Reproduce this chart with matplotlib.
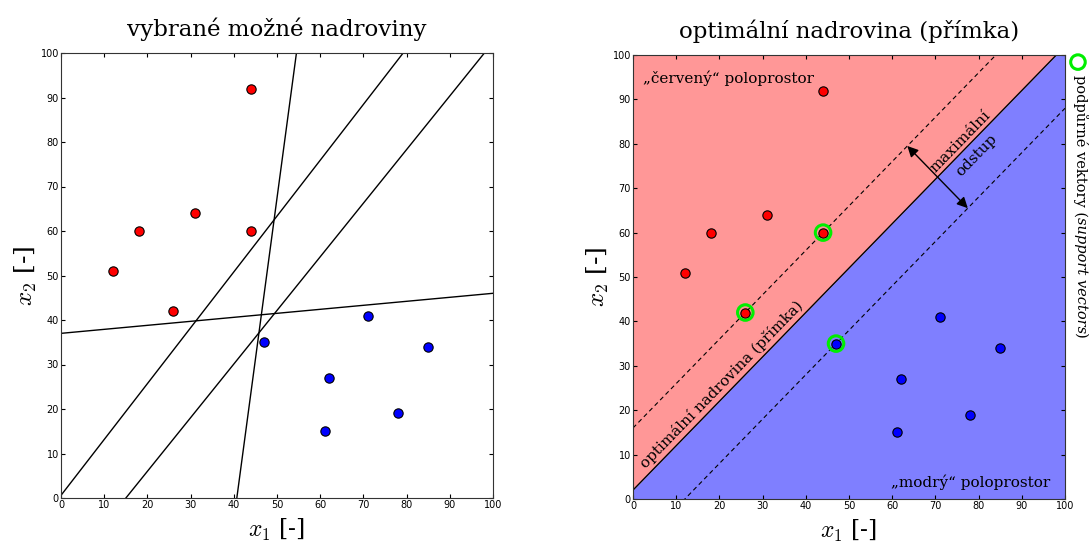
import numpy as np
import matplotlib
matplotlib.use('Agg')
import matplotlib.pyplot as plt

plt.rcParams['font.family'] = ['DejaVu Serif']
plt.rcParams['mathtext.fontset'] = 'cm'

# data points
red_x = [12, 18, 26, 31, 44, 44]
red_y = [51, 60, 42, 64, 60, 92]
blue_x = [47, 61, 62, 71, 78, 85]
blue_y = [35, 15, 27, 41, 19, 34]

# some candidate hyperplanes (slope, intercept), last one given by two points
cand_lines = [(0.09, 37.0), (1.255, 0.6), (1.205, -18.1)]
steep_x = [40.7, 54.5]
steep_y = [0, 100]

# optimal separating line y = x + 2, margins y = x + 16 and y = x - 12
opt_slope, opt_icpt = 1.0, 2.0
margin_icpts = [16.0, -12.0]
sv_x = [26, 44, 47]
sv_y = [42, 60, 35]

xs = np.linspace(0, 100, 201)

fig = plt.figure(figsize=(10.89, 5.45), dpi=100)
ax1 = fig.add_axes([61/1089, 1-498/545, 432/1089, 445/545])
ax2 = fig.add_axes([633/1089, 1-499/545, 432/1089, 444/545])


def style(ax):
    ax.set_xlim(0, 100)
    ax.set_ylim(0, 100)
    ax.set_xticks(range(0, 101, 10))
    ax.set_yticks(range(0, 101, 10))
    ax.tick_params(direction='in', top=True, right=True, labelsize=7, length=3,
                   pad=1.5)
    for lab in ax.get_xticklabels() + ax.get_yticklabels():
        lab.set_family('DejaVu Sans')
    for sp in ax.spines.values():
        sp.set_color('#333333')
    ax.set_xlabel(r'$x_1$ [-]', fontsize=17, labelpad=5)
    ax.set_ylabel(r'$x_2$ [-]', fontsize=18, labelpad=1)


# left: candidate lines
for k, q in cand_lines:
    ax1.plot(xs, k * xs + q, color='black', lw=1)
ax1.plot(steep_x, steep_y, color='black', lw=1)
ax1.scatter(red_x, red_y, s=45, c='red', edgecolors='black', linewidths=0.8, zorder=3)
ax1.scatter(blue_x, blue_y, s=45, c='blue', edgecolors='black', linewidths=0.8, zorder=3)
style(ax1)
ax1.set_title('vybrané možné nadroviny', fontsize=16.5, pad=12)

# right: optimal line and half-planes
ax2.fill_between(xs, opt_slope * xs + opt_icpt, 100, color='#ff9797', lw=0)
ax2.fill_between(xs, 0, opt_slope * xs + opt_icpt, color='#7f7fff', lw=0)
ax2.plot(xs, opt_slope * xs + opt_icpt, color='black', lw=1)
for q in margin_icpts:
    ax2.plot(xs, opt_slope * xs + q, color='black', lw=0.8, ls='--', dashes=(4, 3))
ax2.scatter(red_x, red_y, s=45, c='red', edgecolors='black', linewidths=0.8, zorder=3)
ax2.scatter(blue_x, blue_y, s=45, c='blue', edgecolors='black', linewidths=0.8, zorder=3)
ax2.scatter(sv_x, sv_y, s=125, facecolors='none', edgecolors='#00ee00', linewidths=2.2, zorder=4)
ax2.annotate('', xy=(63.5, 79.5), xytext=(77.5, 65.5),
             arrowprops=dict(arrowstyle='<|-|>', color='black', lw=1,
                             shrinkA=0, shrinkB=0, mutation_scale=16))
fs_in = 11
ax2.text(2.3, 94.8, '„červený“ poloprostor', fontsize=fs_in, va='center')
ax2.text(96.5, 3.8, '„modrý“ poloprostor', fontsize=fs_in, va='center', ha='right')
ax2.text(20.6, 25.7, 'optimální nadrovina (přímka)', fontsize=fs_in, rotation=45.8,
         ha='center', va='center', rotation_mode='anchor')
ax2.text(75.7, 80.4, 'maximální', fontsize=fs_in, rotation=45.8,
         ha='center', va='center', rotation_mode='anchor')
ax2.text(79.6, 77.5, 'odstup', fontsize=fs_in, rotation=45.8,
         ha='center', va='center', rotation_mode='anchor')
style(ax2)
ax2.set_title('optimální nadrovina (přímka)', fontsize=16.5, pad=12)

# legend for support vectors on the right edge
ax2.scatter([103.0], [98.4], s=110, facecolors='none', edgecolors='#00ee00',
            linewidths=2.2, clip_on=False, zorder=5)
fs_leg = 10.5
parts = [('podpůrné vektory (', 'normal'), ('support vectors', 'italic'), (')', 'normal')]
fig.canvas.draw()
renderer = fig.canvas.get_renderer()
x0, y0 = ax2.transData.transform((103.6, 95.6))
for txt, st in parts:
    t = fig.text(x0 / fig.dpi / fig.get_figwidth(), y0 / fig.dpi / fig.get_figheight(),
                 txt, fontsize=fs_leg, style=st, rotation=-90, ha='left', va='center',
                 rotation_mode='anchor')
    bb = t.get_window_extent(renderer)
    y0 = bb.y0

fig.savefig('out.png', dpi=100)
